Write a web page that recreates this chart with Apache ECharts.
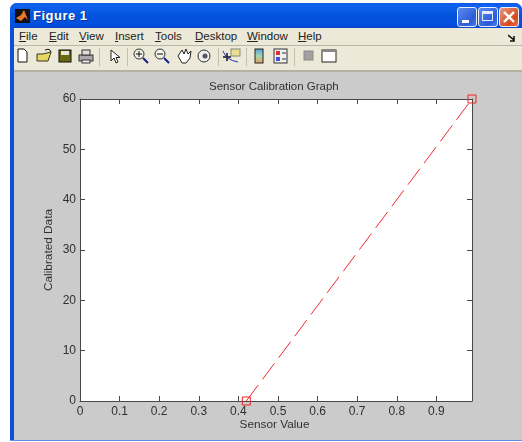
<!DOCTYPE html>
<html><head><meta charset="utf-8">
<script src="https://cdn.jsdelivr.net/npm/echarts@6/dist/echarts.min.js"></script>
<style>
html,body{margin:0;padding:0;background:#fff;width:522px;height:442px;overflow:hidden}
#win{position:absolute;left:10px;top:3px;width:512px;height:438px;background:#0a50dc;border-radius:7px 7px 0 0;
 box-shadow:inset 0 -1px 0 #5f8fe6}
#tbar{position:absolute;left:0;top:0;right:0;height:25px;border-radius:7px 7px 0 0;
 background:linear-gradient(#0a5be8 0,#0f62ee 3px,#0453dc 12px,#0350e0 22px,#0a45c4 25px)}
#ttl{position:absolute;left:23px;top:5px;color:#fff;font:bold 13px "Liberation Sans",Arial,sans-serif;letter-spacing:.5px;text-shadow:1px 1px 0 #03329a}
#logo{position:absolute;left:5px;top:6px;width:15px;height:14px;background:#111}
.btn{position:absolute;top:4px;width:18px;height:18px;border:1px solid #e8eefc;border-radius:3px;background:linear-gradient(135deg,#5f8cf0,#2a5bd8 70%,#4a7ae8)}
#client{position:absolute;left:4px;top:25px;width:508px;height:412px;background:#cbcbcb}
#menu{position:absolute;left:0;top:0;right:0;height:17px;background:#ece9d8;border-bottom:1px solid #b9b6a6;
 font:11.5px "Liberation Sans",Arial,sans-serif;color:#222}
#menu span{position:absolute;top:2px}
#menu u{text-decoration:underline}
#tools{position:absolute;left:0;top:18px;right:0;height:24px;background:#ece9d8;border-bottom:2px solid #b5b2a4}
#tools svg{position:absolute;left:0;top:0}
#chart{position:absolute;left:0;top:0;width:522px;height:442px}
</style></head><body>
<div id="win">
 <div id="tbar">
  <div id="logo"><svg width="15" height="14"><path d="M1 9 L6 6 L9 1 L13 11 L10 8 L6 12Z" fill="#e8782a"/></svg></div>
  <div id="ttl">Figure 1</div>
  <div class="btn" style="left:447px"><div style="position:absolute;left:4px;top:12px;width:7px;height:3px;background:#fff"></div></div>
  <div class="btn" style="left:468px"><div style="position:absolute;left:3px;top:3px;width:11px;height:10px;border:1px solid #dfe8fc;border-top-width:3px;box-sizing:border-box"></div></div>
  <div class="btn" style="left:489px;background:linear-gradient(135deg,#e89a80,#d8481c 70%,#e87050)"><svg width="18" height="18" style="position:absolute;left:0;top:0"><path d="M4 4L14 14M14 4L4 14" stroke="#fff" stroke-width="2.4"/></svg></div>
 </div>
 <div id="client">
  <div id="menu">
   <span style="left:5px"><u>F</u>ile</span>
   <span style="left:35px"><u>E</u>dit</span>
   <span style="left:65px"><u>V</u>iew</span>
   <span style="left:101px"><u>I</u>nsert</span>
   <span style="left:141px"><u>T</u>ools</span>
   <span style="left:181px"><u>D</u>esktop</span>
   <span style="left:233px"><u>W</u>indow</span>
   <span style="left:284px"><u>H</u>elp</span>
   <svg width="8" height="8" style="position:absolute;left:494px;top:6px"><path d="M0 1L6 6M6 2V7H2" stroke="#111" stroke-width="1.6" fill="none"/></svg>
  </div>
  <div id="tools">
   <svg width="508" height="24" shape-rendering="auto">
    <path d="M4 3H10L13 6V16H4Z" fill="#fff" stroke="#111"/>
    <path d="M23 8H29L37 6L34 15H23Z" fill="#e8d860" stroke="#332"/>
    <path d="M31 4Q36 2 37 6" stroke="#111" fill="none"/>
    <rect x="45" y="4" width="12" height="12" fill="#6a6a10" stroke="#111"/><rect x="47" y="5" width="8" height="4" fill="#e8e8d8"/>
    <rect x="65" y="9" width="14" height="6" fill="#aaa" stroke="#333"/><rect x="68" y="4" width="8" height="5" fill="#ddd" stroke="#333"/><rect x="68" y="14" width="8" height="3" fill="#eee" stroke="#333"/>
    <line x1="85.500" y1="2" x2="85.500" y2="20" stroke="#c2bfae"/>
    <path d="M97 4V15L100 12L102 17L104 16L102 11.500H106Z" fill="#fff" stroke="#222"/>
    <line x1="113.500" y1="2" x2="113.500" y2="20" stroke="#c2bfae"/>
    <circle cx="125" cy="8" r="5" fill="#f0f0e8" stroke="#333"/><path d="M122 8H128M125 5V11" stroke="#111"/><path d="M129 12L134 17" stroke="#10208a" stroke-width="2"/>
    <circle cx="146" cy="8" r="5" fill="#f0f0e8" stroke="#333"/><path d="M143 8H149" stroke="#111"/><path d="M150 12L155 17" stroke="#10208a" stroke-width="2"/>
    <path d="M164 10L168 4L170 8L172 3L174 8L177 5L176 12L172 17H168Z" fill="#fff" stroke="#222"/>
    <circle cx="190" cy="10" r="6" fill="#eee" stroke="#333"/><circle cx="191" cy="10" r="2.500" fill="#555"/>
    <line x1="204.500" y1="2" x2="204.500" y2="20" stroke="#c2bfae"/>
    <rect x="217" y="3" width="9" height="7" fill="#e8e090" stroke="#887"/><path d="M209 11H217M213 7V15" stroke="#111" stroke-width="1.500"/><path d="M209 5Q212 14 224 16" stroke="#2030c0" fill="none"/>
    <line x1="232.500" y1="2" x2="232.500" y2="20" stroke="#c2bfae"/>
    <defs><linearGradient id="g" x1="0" y1="0" x2="0" y2="1"><stop offset="0" stop-color="#5aa0e0"/><stop offset=".5" stop-color="#a0d8b0"/><stop offset="1" stop-color="#e8a060"/></linearGradient></defs>
    <rect x="241" y="3" width="8" height="14" fill="url(#g)" stroke="#222"/>
    <rect x="260" y="3" width="13" height="14" fill="#eee" stroke="#333"/><rect x="262" y="5" width="4" height="4" fill="#e03030"/><rect x="262" y="11" width="4" height="4" fill="#4050e0"/><path d="M268 7H272M268 13H272" stroke="#333"/>
    <line x1="280.500" y1="2" x2="280.500" y2="20" stroke="#c2bfae"/>
    <rect x="290" y="5" width="9" height="9" fill="#a0a0a0" stroke="#888"/>
    <rect x="308" y="4" width="14" height="12" fill="#fff" stroke="#222"/><rect x="308" y="4" width="14" height="2" fill="#888"/>
   </svg>
  </div>
 </div>
</div>
<div id="chart"></div>
<script>
const titleText = 'Sensor Calibration Graph';
const xName = 'Sensor Value';
const yName = 'Calibrated Data';
const sensorValues = [0.42, 0.99];
const calibratedData = [0, 60];
const xRange = [0, 0.99];
const yRange = [0, 60];
const font = '"Liberation Sans", Arial, sans-serif';
const ink = '#303030';
const frame = '#484848';
const chart = echarts.init(document.getElementById('chart'), null, {renderer:'canvas'});
const fmtX = v => String(+v.toFixed(1));
function xAxis(pos, labels){
  return {type:'value', position:pos, min:xRange[0], max:xRange[1], interval:0.1,
    name: labels ? xName : '', nameLocation:'middle', nameGap:18, nameMoveOverlap:false,
    nameTextStyle:{fontFamily:font,fontSize:11.8,color:ink,padding:[0,3,0,0]},
    axisLine:{show:true,onZero:false,lineStyle:{color:frame,width:1}},
    axisTick:{show:true,inside:true,length:5,lineStyle:{color:frame,width:1}},
    axisLabel:{show:labels,formatter:fmtX,showMaxLabel:false,showMinLabel:true,hideOverlap:false,margin:5,fontFamily:font,fontSize:12,color:ink},
    splitLine:{show:false}};
}
function yAxis(pos, labels){
  return {type:'value', position:pos, min:yRange[0], max:yRange[1], interval:10,
    name: labels ? yName : '', nameLocation:'middle', nameGap:25, nameMoveOverlap:false,
    nameTextStyle:{fontFamily:font,fontSize:11.8,color:ink},
    axisLine:{show:true,onZero:false,lineStyle:{color:frame,width:1}},
    axisTick:{show:true,inside:true,length:5,lineStyle:{color:frame,width:1}},
    axisLabel:{show:labels,margin:4,fontFamily:font,fontSize:12,color:ink},
    splitLine:{show:false}};
}
chart.setOption({
  animation:false,
  backgroundColor:'transparent',
  title:{text:titleText,left:204,top:76,textStyle:{fontFamily:font,fontSize:11.5,fontWeight:'normal',color:ink}},
  grid:{left:80,top:99,width:392,height:302,backgroundColor:'#fff',show:true,borderWidth:0},
  xAxis:[xAxis('bottom',true),xAxis('top',false)],
  yAxis:[yAxis('left',true),yAxis('right',false)],
  series:[{type:'line',data:sensorValues.map((x,i)=>[x,calibratedData[i]]),
    symbol:'rect',symbolSize:8,showSymbol:true,clip:false,
    itemStyle:{color:'transparent',borderColor:'#f02020',borderWidth:1},
    lineStyle:{color:'#f4282e',width:1,type:[20,7]}}]
});
</script>
</body></html>
